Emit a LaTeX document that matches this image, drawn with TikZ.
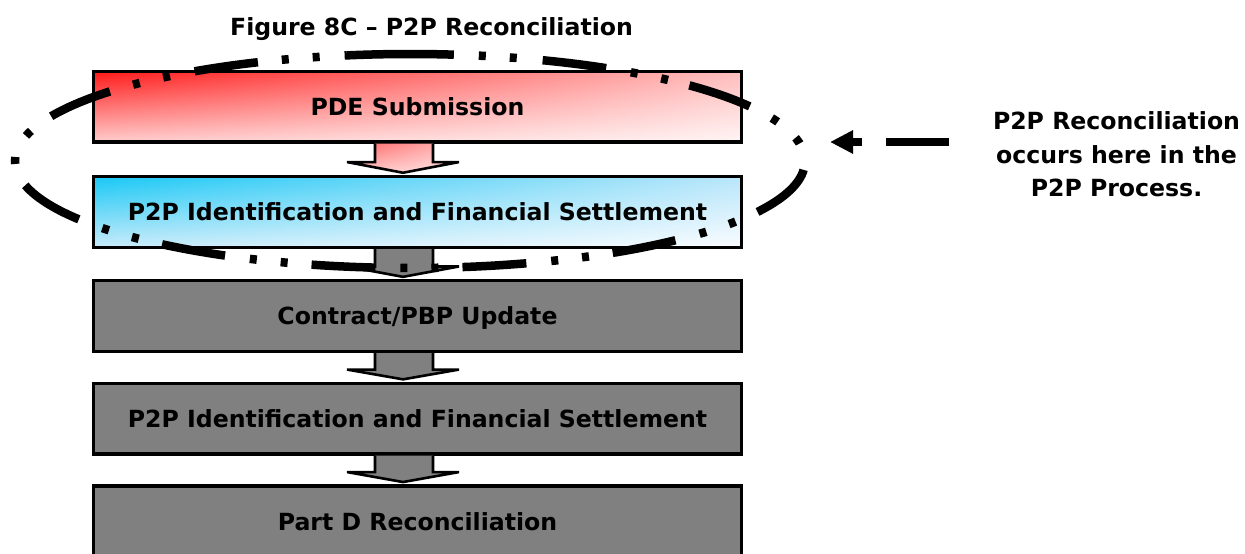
\documentclass[tikz,border=0pt]{standalone}
\usepackage{fontspec}
\setmainfont{DejaVu Sans}
\usetikzlibrary{calc,arrows.meta,shadings}
\definecolor{boxgray}{RGB}{128,128,128}
\definecolor{rA}{RGB}{255,25,25}
\definecolor{rB}{RGB}{255,190,190}
\definecolor{rC}{RGB}{255,205,205}
\definecolor{rD}{RGB}{255,245,245}
\definecolor{cA}{RGB}{25,200,245}
\definecolor{cB}{RGB}{185,230,250}
\definecolor{cC}{RGB}{200,235,250}
\definecolor{cD}{RGB}{250,252,255}
\definecolor{aA}{RGB}{255,100,100}
\definecolor{aB}{RGB}{255,185,185}
\definecolor{aC}{RGB}{255,195,195}
\definecolor{aD}{RGB}{255,230,230}
\newcommand\blockarrow[4]{%
  \draw[blockarr,#1] ($(#2.south)+(-42.5,-1.6)$) -- ($(#2.south)+(-42.5,-#4)$)
    -- ($(#2.south)+(-70.5,-#4)$) -- ($(#3.north)+(-14.5,4)$)
    -- ($(#2.south)+(41.5,-#4)$) -- ($(#2.south)+(15.5,-#4)$)
    -- ($(#2.south)+(15.5,-1.6)$);}
\begin{document}
\begin{tikzpicture}[x=1pt,y=1pt,
  box/.style={draw=black, line width=3.2pt, minimum width=648pt,
    minimum height=70.7pt, inner sep=0pt, outer sep=0pt,
    font=\fontsize{23.6}{28}\selectfont\bfseries, text height=17.2pt, text depth=0pt},
  graybox/.style={box, fill=boxgray},
  blockarr/.style={draw=black, line width=2.6pt, line join=miter},
  ellpart/.style={draw=black, line width=8.5pt, line cap=butt},
  label/.style={font=\fontsize{23.6}{33.5}\selectfont\bfseries, inner sep=0pt, align=center},
  pointer/.style={draw=black, line width=8pt, dash pattern=on 63pt off 24pt on 300pt,
    -{Triangle[length=23pt,width=22pt]}}]
\fill[white] (0,0) rectangle (1245,-554);
\useasboundingbox (0,0) rectangle (1245,-554);

\node[label, anchor=base] (title) at (431.5,-35) {Figure 8C \textendash{} P2P Reconciliation};

\node[box, shade, upper left=rA, upper right=rB, lower left=rC, lower right=rD] (b1) at (417.5,-106.7) {PDE Submission};
\node[box, shade, upper left=cA, upper right=cB, lower left=cC, lower right=cD] (b2) at (417.5,-212.1) {P2P Identification and Financial Settlement};
\node[graybox] (b3) at (417.5,-316.2) {Contract/PBP Update};
\node[graybox] (b4) at (417.5,-418.7) {P2P Identification and Financial Settlement};
\node[graybox] (b5) at (417.5,-521.4) {Part D Reconciliation};

\blockarrow{shade, upper left=aA, upper right=aB, lower left=aC, lower right=aD}{b1}{b2}{20}
\blockarrow{fill=boxgray}{b2}{b3}{19}
\blockarrow{fill=boxgray}{b3}{b4}{18}
\blockarrow{fill=boxgray}{b4}{b5}{18}

\coordinate (ellc) at (410,-161);
\draw[ellpart, dash pattern=on 64pt off 24pt on 7pt off 24pt on 7pt off 25pt, dash phase=142pt]
  (ellc) ++(0:395pt and 107pt) arc[start angle=0, end angle=-260.8, x radius=395pt, y radius=107pt];
\draw[ellpart, dash pattern=on 107pt off 25pt on 7pt off 24pt on 7pt off 26pt on 64pt off 25pt on 7pt off 24pt on 7pt off 22pt on 64pt off 25pt on 7pt off 24pt on 7pt off 60pt]
  (ellc) ++(-260.8:395pt and 107pt) arc[start angle=-260.8, end angle=-360, x radius=395pt, y radius=107pt];

\node[label, anchor=north] (note) at (1116.5,-111.5) {P2P Reconciliation\\occurs here in the\\P2P Process.};
\coordinate (pstart) at (949,-142);
\coordinate (ptip) at (830,-142);
\draw[pointer] (pstart) -- (ptip);
\end{tikzpicture}
\end{document}
